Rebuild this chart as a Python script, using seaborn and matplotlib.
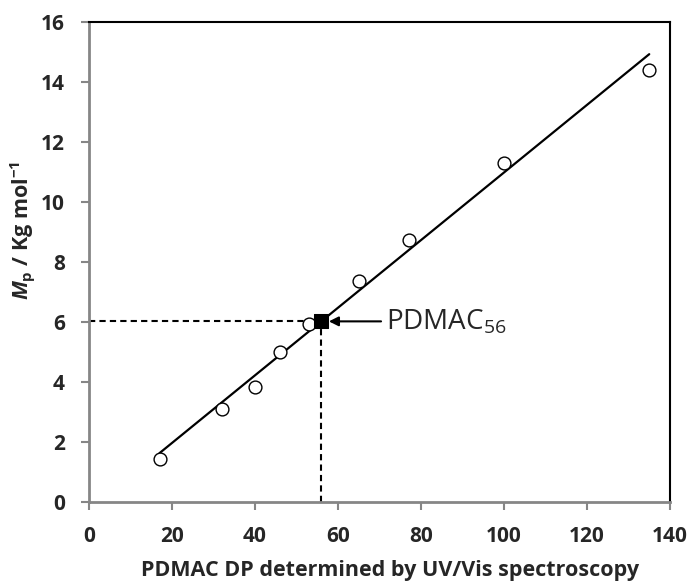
import numpy as np
import pandas as pd
import matplotlib
matplotlib.use("Agg")
import matplotlib.pyplot as plt
import seaborn as sns

# Data
dp_values = [17, 32, 40, 46, 53, 65, 77, 100, 135]
mp_values = [1.43, 3.10, 3.83, 5.00, 5.93, 7.37, 8.73, 11.30, 14.40]
target_dp = 56
target_mp = 6.02
x_ticks = [0, 20, 40, 60, 80, 100, 120, 140]
y_ticks = [0, 2, 4, 6, 8, 10, 12, 14, 16]

sns.set_theme(style="white")
FONT = 'Open Sans'
plt.rcParams['font.family'] = [FONT, 'DejaVu Sans']
plt.rcParams['mathtext.fontset'] = 'custom'
plt.rcParams['mathtext.it'] = FONT + ':italic:bold'
plt.rcParams['mathtext.rm'] = FONT + ':bold'
plt.rcParams['mathtext.bf'] = FONT + ':bold'

df = pd.DataFrame({"dp": dp_values, "mp": mp_values})
slope, intercept = np.polyfit(df["dp"], df["mp"], 1)
fit_x = np.array([min(dp_values), max(dp_values)])
fit_df = pd.DataFrame({"dp": fit_x, "mp": slope * fit_x + intercept})

fig = plt.figure(figsize=(6.91, 5.83), dpi=100)
ax = fig.add_axes([0.1288, 0.139, 0.9696 - 0.1288, 0.9623 - 0.139])

sns.lineplot(data=fit_df, x="dp", y="mp", color="black", linewidth=1.6, ax=ax, zorder=2)
sns.scatterplot(data=df, x="dp", y="mp", s=85, facecolor="white", edgecolor="black",
                linewidth=1.0, ax=ax, zorder=3)

# dashed guide lines
ax.plot([0, target_dp], [target_mp, target_mp], color="black", linestyle=(0, (3, 2)), linewidth=1.5, zorder=1)
ax.plot([target_dp, target_dp], [0, target_mp], color="black", linestyle=(0, (3, 2)), linewidth=1.5, zorder=1)

sns.scatterplot(x=[target_dp], y=[target_mp], marker="s", s=90, color="black",
                edgecolor="black", ax=ax, zorder=4)

ax.annotate("PDMAC$_{\\mathregular{56}}$", xy=(target_dp + 1.8, target_mp),
            xytext=(target_dp + 15.5, target_mp), va="center", ha="left",
            fontsize=20, fontweight="normal", family="Open Sans",
            arrowprops=dict(arrowstyle="-|>", color="black", lw=1.5, mutation_scale=14,
                            shrinkA=1, shrinkB=0))

ax.set_xlim(0, 140)
ax.set_ylim(0, 16)
ax.set_xticks(x_ticks)
ax.set_yticks(y_ticks)
ax.set_xticklabels([str(v) for v in x_ticks], fontsize=15, fontweight="bold")
ax.set_yticklabels([str(v) for v in y_ticks], fontsize=15, fontweight="bold")
ax.tick_params(axis="both", which="major", direction="out", length=6, width=1.5,
               color="#868686", left=True, bottom=True)
ax.tick_params(axis="y", pad=11.5)
ax.tick_params(axis="x", pad=11)

ax.set_xlabel("PDMAC DP determined by UV/Vis spectroscopy", fontsize=15.5, fontweight="bold")
ax.xaxis.set_label_coords(0.518, -0.121)
ax.set_ylabel("$\\mathit{M}_{\\mathregular{p}}$ / Kg mol$^{\\mathregular{-1}}$", fontsize=15.5, fontweight="bold")
ax.yaxis.set_label_coords(-0.09, 0.565)

for side in ["left", "bottom"]:
    ax.spines[side].set_color("#868686")
    ax.spines[side].set_linewidth(2)
for side in ["top", "right"]:
    ax.spines[side].set_color("black")
    ax.spines[side].set_linewidth(1.5)
ax.grid(False)

fig.savefig("out.png", dpi=100)
